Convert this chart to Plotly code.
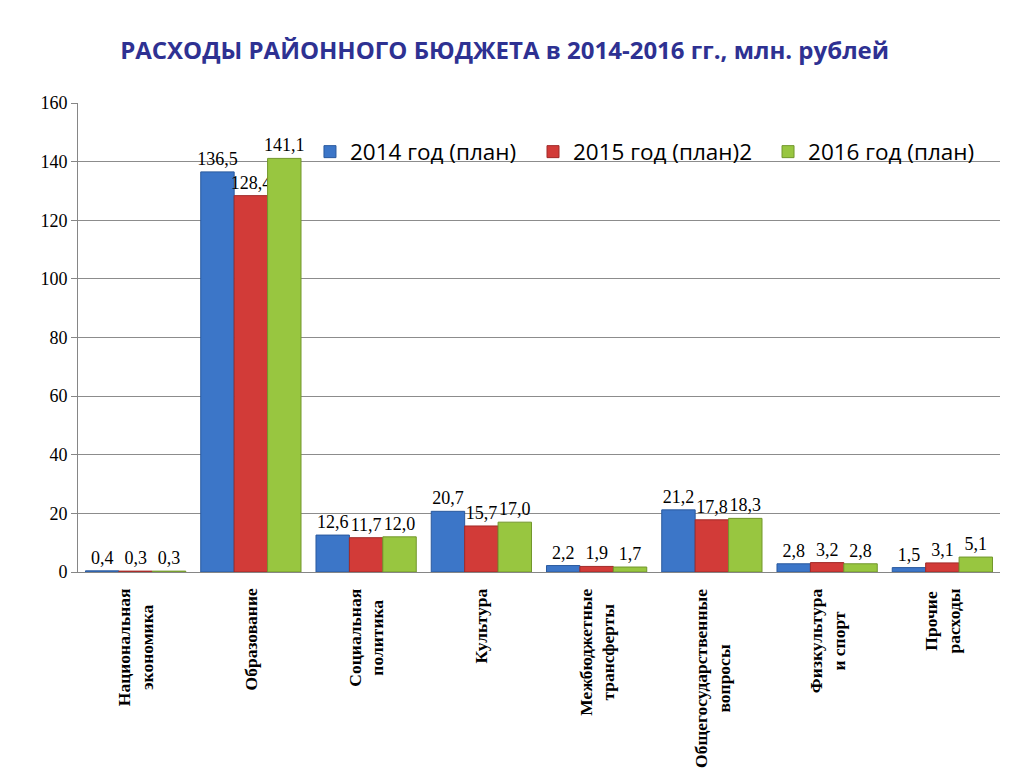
import plotly.graph_objects as go

categories = [
    "Национальная<br>экономика",
    "Образование",
    "Социальная<br>политика",
    "Культура",
    "Межбюджетные<br>трансферты",
    "Общегосударственные<br>вопросы",
    "Физкультура<br>и спорт",
    "Прочие<br>расходы",
]
series_names = ["2014 год (план)", "2015 год (план)2", "2016 год (план)"]
v2014 = [0.4, 136.5, 12.6, 20.7, 2.2, 21.2, 2.8, 1.5]
v2015 = [0.3, 128.4, 11.7, 15.7, 1.9, 17.8, 3.2, 3.1]
v2016 = [0.3, 141.1, 12.0, 17.0, 1.7, 18.3, 2.8, 5.1]
y_ticks = [0, 20, 40, 60, 80, 100, 120, 140, 160]

colors = ["#3C76C8", "#D23B38", "#98C640"]
lines = ["#2A5A9E", "#A12A28", "#72972C"]
legend_ids = ["legend", "legend2", "legend3"]
legend_x = [0.2516, 0.4935, 0.7484]

def fmt(v):
    return f"{v:.1f}".replace(".", ",")

fig = go.Figure()
for name, vals, c, lc, lid in zip(series_names, [v2014, v2015, v2016], colors, lines, legend_ids):
    fig.add_trace(go.Bar(
        x=list(range(len(categories))), y=vals, name=name, legend=lid,
        showlegend=True,
        marker=dict(color=c, line=dict(color=lc, width=1)),
        text=[fmt(v) for v in vals], textposition="outside",
        constraintext="none",
        textfont=dict(family="Liberation Serif", size=18, color="#000000"),
        cliponaxis=False,
    ))

for i, cat in enumerate(categories):
    fig.add_annotation(
        x=i, xref="x", y=-0.031, yref="paper", text="<b>" + cat + "</b>", textangle=-90,
        showarrow=False, xanchor="center", yanchor="top", align="center",
        font=dict(family="Liberation Serif", size=17.5, color="#000000"),
    )

legend_common = dict(orientation="v", xanchor="left", y=0.8955, yanchor="middle",
                     font=dict(family="Open Sans", size=22.5, color="#000000"),
                     bgcolor="rgba(0,0,0,0)", itemwidth=30)

fig.update_layout(
    width=1024, height=768, showlegend=True,
    paper_bgcolor="white", plot_bgcolor="white",
    margin=dict(l=70, r=32, t=95, b=204),
    barmode="group", bargap=0.13, bargroupgap=0,
    title=dict(text="<b>РАСХОДЫ РАЙОННОГО БЮДЖЕТА в 2014-2016 гг., млн. рублей</b>",
               x=0.485, xanchor="center", y=0.945, yanchor="middle",
               font=dict(family="Open Sans", size=24, color="#2E3192")),
    legend=dict(x=legend_x[0], **legend_common),
    legend2=dict(x=legend_x[1], **legend_common),
    legend3=dict(x=legend_x[2], **legend_common),
    xaxis=dict(range=[-0.5, len(categories) - 0.5], showticklabels=False,
               showline=True, linecolor="#868686", linewidth=1, ticks="",
               showgrid=False, zeroline=False),
    yaxis=dict(range=[0, 160], tickvals=y_ticks, showline=True, linecolor="#868686",
               linewidth=1, ticks="outside", ticklen=6, tickcolor="#868686",
               showgrid=True, gridcolor="#8C8C8C", gridwidth=1, zeroline=False,
               tickfont=dict(family="Liberation Serif", size=18, color="#000000")),
)

fig.write_html("out.html")
